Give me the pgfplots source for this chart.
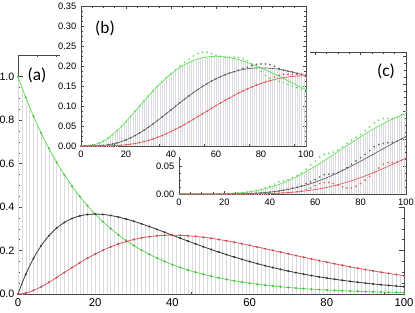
\documentclass[border=0pt]{standalone}
\usepackage{fontspec}
\setmainfont{Liberation Sans}
\newfontfamily\labfont{Carlito}
\usepackage{pgfplots}
\usepackage{pgfplotstable}
\pgfplotsset{compat=1.18}
\definecolor{cg}{RGB}{95,225,85}
\definecolor{ck}{RGB}{55,55,55}
\definecolor{cr}{RGB}{225,90,90}
\definecolor{stemc}{RGB}{218,218,224}

\pgfplotstableread{
x g k r
0 1 0 0
1 .9512 .04756 .00119
2 .9048 .09048 .00452
3 .8607 .1291 .00968
4 .8187 .1637 .01637
5 .7788 .1947 .02434
6 .7408 .2222 .03334
7 .7047 .2466 .04316
8 .6703 .2681 .05363
9 .6376 .2869 .06456
10 .6065 .3033 .07582
11 .5770 .3173 .08726
12 .5488 .3293 .09879
13 .5220 .3393 .1103
14 .4966 .3476 .1217
15 .4724 .3543 .1329
16 .4493 .3595 .1438
17 .4274 .3633 .1544
18 .4066 .3659 .1647
19 .3867 .3674 .1745
20 .3679 .3679 .1839
21 .3499 .3674 .1929
22 .3329 .3662 .2014
23 .3166 .3641 .2094
24 .3012 .3614 .2169
25 .2865 .3581 .2238
26 .2725 .3543 .2303
27 .2592 .3500 .2362
28 .2466 .3452 .2417
29 .2346 .3401 .2466
30 .2231 .3347 .2510
31 .2122 .3290 .2550
32 .2019 .3230 .2584
33 .1921 .3169 .2614
34 .1827 .3106 .2640
35 .1738 .3041 .2661
36 .1653 .2975 .2678
37 .1572 .2909 .2691
38 .1496 .2842 .2700
39 .1423 .2774 .2705
40 .1353 .2707 .2707
41 .1287 .2639 .2705
42 .1225 .2572 .2700
43 .1165 .2504 .2692
44 .1108 .2438 .2681
45 .1054 .2371 .2668
46 .1003 .2306 .2652
47 .09537 .2241 .2633
48 .09072 .2177 .2613
49 .08629 .2114 .2590
50 .08208 .2052 .2565
51 .07808 .1991 .2539
52 .07427 .1931 .2510
53 .07065 .1872 .2481
54 .06721 .1815 .2450
55 .06393 .1758 .2417
56 .06081 .1703 .2384
57 .05784 .1649 .2349
58 .05502 .1596 .2314
59 .05234 .1544 .2277
60 .04979 .1494 .2240
61 .04736 .1444 .2203
62 .04505 .1397 .2165
63 .04285 .1350 .2126
64 .04076 .1304 .2087
65 .03877 .1260 .2048
66 .03688 .1217 .2008
67 .03508 .1175 .1969
68 .03337 .1135 .1929
69 .03175 .1095 .1889
70 .03020 .1057 .1850
71 .02873 .1020 .1810
72 .02732 .09837 .1771
73 .02599 .09487 .1731
74 .02472 .09148 .1692
75 .02352 .08819 .1654
76 .02237 .08501 .1615
77 .02128 .08193 .1577
78 .02024 .07894 .1539
79 .01926 .07606 .1502
80 .01832 .07326 .1465
81 .01742 .07056 .1429
82 .01657 .06795 .1393
83 .01576 .06542 .1357
84 .01500 .06298 .1323
85 .01426 .06062 .1288
86 .01357 .05835 .1254
87 .01291 .05615 .1221
88 .01228 .05402 .1188
89 .01168 .05197 .1156
90 .01111 .04999 .1125
91 .01057 .04808 .1094
92 .01005 .04624 .1063
93 .00956 .04446 .1034
94 .00910 .04275 .1005
95 .00865 .04110 .09760
96 .00823 .03950 .09481
97 .00783 .03797 .09207
98 .00745 .03649 .08940
99 .00708 .03506 .08678
100 .00674 .03369 .08422
}\tabA

\pgfplotstableread{
x g k r
0 0 0 0
1 0 0 0
2 .00015 0 0
3 .00048 .00002 0
4 .00109 .00005 0
5 .00203 .00013 .00001
6 .00333 .00025 .00002
7 .00504 .00044 .00003
8 .00715 .00072 .00006
9 .00968 .00109 .0001
10 .01264 .00158 .00016
11 .0160 .0022 .00024
12 .01976 .00296 .00036
13 .0239 .00388 .00051
14 .02839 .00497 .0007
15 .03321 .00623 .00093
16 .03834 .00767 .00123
17 .04375 .0093 .00158
18 .0494 .01112 .002
19 .05526 .01312 .00249
20 .06131 .01533 .00307
21 .06752 .01772 .00372
22 .07384 .02031 .00447
23 .08026 .02307 .00531
24 .08674 .02602 .00625
25 .09326 .02914 .00729
26 .09979 .03243 .00843
27 .1063 .03588 .00969
28 .1128 .03948 .01105
29 .1192 .04321 .01253
30 .1255 .04707 .01412
31 .1317 .05105 .01583
32 .1378 .05513 .01764
33 .1438 .05932 .01958
34 .1496 .06358 .02162
35 .1552 .06791 .02377
36 .1607 .0723 .02603
37 .1659 .07674 .02839
38 .171 .08121 .03086
39 .1758 .08572 .03343
40 .1804 .09022 .03609
41 .1849 .09474 .03884
42 .189 .09924 .04168
43 .1929 .1037 .0446
44 .1966 .1081 .04758
45 .2001 .1126 .05065
46 .2033 .1169 .05378
47 .2063 .1212 .05696
48 .209 .1254 .0602
49 .2115 .1296 .06349
50 .2138 .1336 .0668
51 .2158 .1376 .07016
52 .2176 .1414 .07354
53 .2191 .1452 .07694
54 .2205 .1488 .08036
55 .2216 .1524 .0838
56 .2225 .1557 .08722
57 .2232 .159 .09064
58 .2237 .1622 .09406
59 .224 .1652 .09746
60 .224 .168 .1008
61 .224 .1708 .1042
62 .2237 .1733 .1075
63 .2232 .1758 .1108
64 .2226 .1781 .114
65 .2218 .1802 .1172
66 .2209 .1823 .1203
67 .2198 .1841 .1233
68 .2186 .1858 .1264
69 .2173 .1874 .1293
70 .2158 .1888 .1322
71 .2142 .1901 .135
72 .2125 .1912 .1377
73 .2107 .1923 .1404
74 .2087 .1931 .1429
75 .2067 .1938 .1453
76 .2046 .1944 .1477
77 .2024 .1948 .15
78 .2001 .1951 .1522
79 .1978 .1953 .1543
80 .1954 .1954 .1563
81 .1929 .1953 .1582
82 .1904 .1951 .16
83 .1878 .1949 .1618
84 .1852 .1944 .1633
85 .1825 .1939 .1648
86 .1798 .1933 .1662
87 .1771 .1926 .1675
88 .1743 .1918 .1688
89 .1715 .1908 .1698
90 .1687 .1898 .1708
91 .1659 .1887 .1717
92 .1631 .1875 .1725
93 .1602 .1863 .1733
94 .1574 .1849 .1738
95 .1545 .1835 .1743
96 .1517 .182 .1748
97 .1488 .1805 .1751
98 .146 .1789 .1753
99 .1432 .1772 .1754
100 .1404 .1755 .1755
}\tabB

\pgfplotstableread{
x g k r
0 0 0 0
2 .00015 0 0
4 .00109 .00005 0
6 .00333 .00025 .00002
8 .00715 .00072 .00006
10 .01264 .00158 .00016
12 .01976 .00296 .00036
14 .02839 .00497 .0007
16 .03834 .00767 .00123
18 .0494 .01112 .002
20 .06131 .01533 .00307
22 .07384 .02031 .00447
24 .08674 .02602 .00625
26 .09979 .03243 .00843
28 .1128 .03948 .01105
30 .1255 .04707 .01412
32 .1378 .05513 .01764
34 .1496 .06358 .02162
36 .1607 .0723 .02603
38 .171 .08121 .03086
40 .1804 .09022 .03609
42 .19 .09924 .04168
44 .2 .1081 .04758
46 .209 .1169 .05378
48 .217 .1254 .0602
50 .225 .1336 .0668
52 .231 .1414 .07354
54 .234 .1488 .08036
56 .234 .1557 .08722
58 .231 .1622 .09406
60 .227 .168 .1008
62 .224 .1733 .1075
64 .222 .1781 .114
66 .222 .1823 .1203
68 .222 .1858 .1264
70 .221 .189 .1322
72 .218 .193 .1377
74 .213 .197 .1429
76 .205 .201 .1477
78 .196 .204 .1522
80 .186 .205 .1563
82 .176 .205 .16
84 .169 .203 .1633
86 .165 .199 .172
88 .162 .194 .177
90 .158 .19 .179
92 .154 .187 .179
94 .15 .185 .179
96 .146 .182 .179
98 .142 .179 .179
100 .139 .1755 .179
}\dotB

\pgfplotstableread{
x g k r
0 0 0 0
5 0 0 0
10 .00001 0 0
11 .00002 0 0
12 .00004 0 0
13 .00005 0 0
14 .00008 .00001 0
15 .00012 .00001 0
16 .00016 .00002 0
17 .00022 .00003 0
18 .0003 .00004 0
19 .0004 .00005 .00001
20 .00051 .00007 .00001
21 .00065 .0001 .00001
22 .00082 .00013 .00002
23 .00102 .00017 .00002
24 .00125 .00021 .00003
25 .00152 .00027 .00004
26 .00183 .00034 .00006
27 .00218 .00042 .00007
28 .00258 .00052 .00009
29 .00303 .00063 .00011
30 .00353 .00076 .00014
31 .00409 .00091 .00018
32 .00471 .00108 .00022
33 .00538 .00127 .00026
34 .00613 .00149 .00032
35 .00693 .00173 .00038
36 .00781 .00201 .00045
37 .00876 .00231 .00054
38 .00977 .00265 .00063
39 .01087 .00303 .00074
40 .01203 .00344 .00086
41 .01327 .00389 .001
42 .01459 .00438 .00115
43 .01598 .00491 .00132
44 .01745 .00548 .00151
45 .01899 .00611 .00172
46 .02062 .00677 .00195
47 .02231 .00749 .0022
48 .02408 .00826 .00248
49 .02593 .00907 .00278
50 .02783 .00994 .00311
51 .02982 .01086 .00346
52 .03187 .01184 .00385
53 .03398 .01286 .00426
54 .03616 .01395 .00471
55 .03841 .01509 .00519
56 .0407 .01628 .0057
57 .04306 .01753 .00625
58 .04546 .01883 .00683
59 .04792 .02019 .00745
60 .05041 .0216 .0081
61 .05296 .02307 .0088
62 .05554 .0246 .00953
63 .05815 .02617 .0103
64 .0608 .02779 .01112
65 .06346 .02946 .01197
66 .06616 .03119 .01287
67 .06887 .03296 .0138
68 .0716 .03478 .01478
69 .07435 .03664 .0158
70 .0771 .03855 .01687
71 .07987 .0405 .01797
72 .08262 .04249 .01912
73 .08539 .04452 .02031
74 .08812 .04658 .02154
75 .09084 .04867 .02281
76 .09356 .05079 .02413
77 .09624 .05293 .02547
78 .09893 .05512 .02687
79 .1016 .05731 .0283
80 .1042 .05954 .02977
81 .1068 .06179 .03128
82 .1093 .06404 .03282
83 .1119 .06633 .03441
84 .1143 .0686 .03602
85 .1167 .07088 .03766
86 .1191 .07318 .03933
87 .1215 .07547 .04104
88 .1237 .07778 .04278
89 .126 .08007 .04454
90 .1281 .08236 .04633
91 .1302 .08463 .04813
92 .1323 .08691 .04997
93 .1343 .0892 .05185
94 .1362 .09144 .05372
95 .138 .09366 .05561
96 .1398 .09587 .05752
97 .1415 .09806 .05945
98 .1432 .1002 .06138
99 .1447 .1023 .06332
100 .1462 .1044 .06527
}\tabC

\pgfplotstableread{
x g k r
20 .0005 .00007 .00001
22 .0008 .00013 .00002
24 .0013 .00021 .00003
26 .0018 .00034 .00006
28 .0026 .00052 .00009
30 .0035 .00076 .00014
32 .0047 .00108 .00022
34 .0061 .00149 .00032
36 .0085 .00201 .00045
38 .011 .00265 .00063
40 .014 .0034 .0009
42 .018 .0044 .0012
44 .022 .0055 .0015
46 .024 .0068 .002
48 .026 .0083 .0025
50 .029 .011 .0031
52 .033 .0125 .004
54 .038 .0152 .0055
56 .045 .019 .008
58 .053 .022 .011
60 .06 .026 .015
62 .067 .031 .019
64 .072 .035 .021
66 .074 .036 .021
68 .076 .037 .019
70 .08 .039 .016
72 .086 .043 .013
74 .092 .048 .011
76 .098 .054 .011
78 .103 .06 .014
80 .108 .066 .019
82 .115 .072 .025
84 .122 .079 .032
86 .129 .086 .039
88 .134 .09 .047
90 .137 .092 .054
92 .137 .093 .057
94 .137 .094 .057
96 .139 .096 .058
98 .144 .10 .061
100 .15 .104 .065
}\dotC

\begin{document}
\begin{tikzpicture}
\useasboundingbox (0,0) rectangle (311.25pt,234pt);
\pgfplotsset{
  frm/.style={scale only axis, anchor=south west, xmin=0, xmax=100, ymin=0,
    tick align=inside, tick pos=both,
    axis line style={draw=black!72, line width=0.6pt},
    every tick/.style={draw=black!72, line width=0.4pt},
    xtick={0,20,40,60,80,100}, minor x tick num=3, minor y tick num=3,
    /pgf/number format/assume math mode=true,
    stm/.style={stemc, ycomb, line width=0.28pt, forget plot},
  },
}
% ---------------- (a)
\begin{axis}[frm, at={(13.5pt,13.5pt)}, width=289.5pt, height=179.25pt, ymax=1.1,
  ytick={0,0.2,0.4,0.6,0.8,1.0},
  xticklabel style={font=\fontsize{8.5}{8.5}\selectfont},
  yticklabel style={font=\fontsize{8}{8}\selectfont, xshift=0.8pt,
    /pgf/number format/.cd,fixed,fixed zerofill,precision=1},
  major tick length=3.5pt, minor tick length=1.8pt]
\addplot[stm] table[x=x,y=g]{\tabA};
\addplot[stm] table[x=x,y=k]{\tabA};
\addplot[stm] table[x=x,y=r]{\tabA};
\addplot[cg, line width=0.6pt] table[x=x,y=g]{\tabA};
\addplot[ck, line width=0.6pt] table[x=x,y=k]{\tabA};
\addplot[cr, line width=0.6pt] table[x=x,y=r]{\tabA};
\addplot[cg!80!black, only marks, mark=*, mark size=0.55pt, mark repeat=2] table[x=x,y=g]{\tabA};
\addplot[ck, only marks, mark=*, mark size=0.55pt, mark repeat=2] table[x=x,y=k]{\tabA};
\addplot[cr!85!black, only marks, mark=*, mark size=0.55pt, mark repeat=2] table[x=x,y=r]{\tabA};
\end{axis}
% ---------------- (c)
\fill[white] (111pt,78.75pt) rectangle (311.25pt,200.25pt);
\begin{axis}[frm, at={(134.25pt,88.5pt)}, width=170.25pt, height=106.5pt, ymax=0.258,
  ytick={0,0.05,0.1,0.15,0.2,0.25},
  tick label style={font=\fontsize{7}{7}\selectfont},
  yticklabel style={/pgf/number format/.cd,fixed,fixed zerofill,precision=2},
  major tick length=2.5pt, minor tick length=1.2pt]
\addplot[stm] table[x=x,y=g]{\tabC};
\addplot[stm] table[x=x,y=k]{\tabC};
\addplot[stm] table[x=x,y=r]{\tabC};
\addplot[cg, line width=0.5pt] table[x=x,y=g]{\tabC};
\addplot[ck!80, line width=0.5pt] table[x=x,y=k]{\tabC};
\addplot[cr, line width=0.5pt] table[x=x,y=r]{\tabC};
\addplot[cg, only marks, mark=*, mark size=0.4pt] table[x=x,y=g]{\dotC};
\addplot[ck!80, only marks, mark=*, mark size=0.4pt] table[x=x,y=k]{\dotC};
\addplot[cr, only marks, mark=*, mark size=0.4pt] table[x=x,y=r]{\dotC};
\end{axis}
% ---------------- (b)
\fill[white] (45pt,116.25pt) rectangle (232.5pt,234pt);
\begin{axis}[frm, at={(60.75pt,124.5pt)}, width=168.75pt, height=105pt, ymax=0.35,
  ytick={0,0.05,0.1,0.15,0.2,0.25,0.3,0.35},
  tick label style={font=\fontsize{7}{7}\selectfont},
  yticklabel style={/pgf/number format/.cd,fixed,fixed zerofill,precision=2},
  major tick length=2.5pt, minor tick length=1.2pt]
\addplot[stm] table[x=x,y=g]{\tabB};
\addplot[stm] table[x=x,y=k]{\tabB};
\addplot[stm] table[x=x,y=r]{\tabB};
\addplot[cg, line width=0.5pt] table[x=x,y=g]{\tabB};
\addplot[ck!80, line width=0.5pt] table[x=x,y=k]{\tabB};
\addplot[cr, line width=0.5pt] table[x=x,y=r]{\tabB};
\addplot[cg, only marks, mark=*, mark size=0.4pt] table[x=x,y=g]{\dotB};
\addplot[ck!80, only marks, mark=*, mark size=0.4pt] table[x=x,y=k]{\dotB};
\addplot[cr, only marks, mark=*, mark size=0.4pt] table[x=x,y=r]{\dotB};
\end{axis}
% ---------------- panel labels
\node[font=\labfont\fontsize{13}{13}\selectfont] at (27.75pt,177.4pt) {(a)};
\node[font=\labfont\fontsize{13}{13}\selectfont] at (78.75pt,213pt) {(b)};
\node[font=\labfont\fontsize{13}{13}\selectfont] at (289.5pt,180.75pt) {(c)};
\end{tikzpicture}
\end{document}
